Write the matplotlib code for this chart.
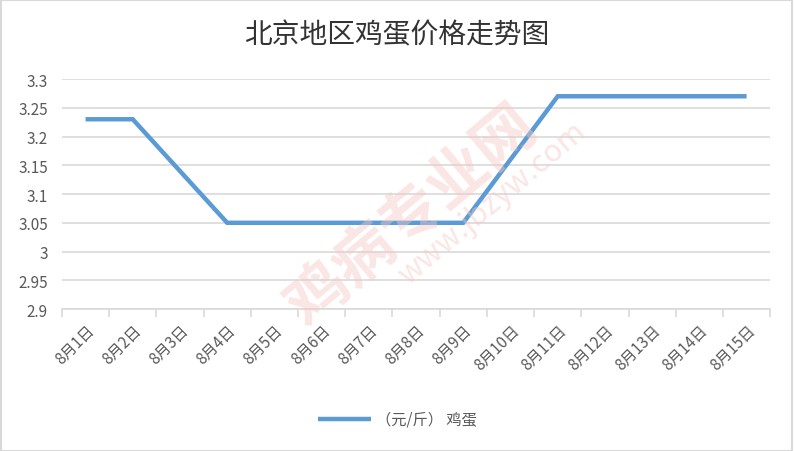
import numpy as np
from matplotlib import pyplot as plt

plt.rcParams['font.family'] = ['Noto Sans CJK SC', 'DejaVu Sans']

dates = ["8月1日", "8月2日", "8月3日", "8月4日", "8月5日", "8月6日", "8月7日", "8月8日",
         "8月9日", "8月10日", "8月11日", "8月12日", "8月13日", "8月14日", "8月15日"]
egg_price = [3.23, 3.23, 3.14, 3.05, 3.05, 3.05, 3.05, 3.05, 3.05, 3.16, 3.27, 3.27, 3.27, 3.27, 3.27]
y_ticks = [2.9, 2.95, 3.0, 3.05, 3.1, 3.15, 3.2, 3.25, 3.3]
y_tick_labels = ["2.9", "2.95", "3", "3.05", "3.1", "3.15", "3.2", "3.25", "3.3"]

fig = plt.figure(figsize=(7.94, 4.52), dpi=100)
ax = fig.add_axes([0.078, 0.314, 0.892, 0.509])

x = np.arange(len(dates))
ax.plot(x, egg_price, color='#5B9BD5', linewidth=3.2, solid_capstyle='butt',
        solid_joinstyle='miter', label='（元/斤） 鸡蛋', zorder=3)

ax.set_xlim(-0.5, len(dates) - 0.5)
ax.set_ylim(2.9, 3.3)
ax.set_yticks(y_ticks)
ax.set_yticklabels(y_tick_labels)
ax.grid(axis='y', color='#d9d9d9', linewidth=1.2)
ax.set_axisbelow(True)

# category boundaries get the tick marks, centres get the labels
ax.set_xticks(np.arange(-0.5, len(dates), 1.0))
ax.set_xticklabels([])
ax.set_xticks(x, minor=True)
ax.set_xticklabels(dates, minor=True, rotation=45, ha='right', rotation_mode='anchor')
ax.tick_params(axis='x', which='major', length=6, color='#d9d9d9', width=1.2, direction='out')
ax.tick_params(axis='x', which='minor', length=0, pad=9, labelsize=11, labelcolor='#595959')
ax.tick_params(axis='y', length=0, pad=10, labelsize=11, labelcolor='#595959')

for side in ['top', 'right', 'left']:
    ax.spines[side].set_visible(False)
ax.spines['bottom'].set_color('#d9d9d9')
ax.spines['bottom'].set_linewidth(1.2)

fig.text(0.5, 0.922, "北京地区鸡蛋价格走势图", ha='center', va='center', fontsize=20,
         fontweight='medium', color='#333333')

# faint watermark
fig.text(0.52, 0.52, "鸡病专业网", rotation=40, fontsize=44, fontweight='bold', color='#f4c7c3',
         alpha=0.45, ha='center', va='center', zorder=0)
fig.text(0.62, 0.55, "www.jbzyw.com", rotation=40, fontsize=22, color='#f4c7c3',
         alpha=0.45, ha='center', va='center', zorder=0)

leg = fig.legend(loc='center', bbox_to_anchor=(0.5, 0.07), frameon=False, fontsize=11,
                 handlelength=3.5, handletextpad=0.3)
for t in leg.get_texts():
    t.set_color('#595959')

fig.patches.append(plt.Rectangle((0.001, 0.001), 0.997, 0.997, transform=fig.transFigure,
                                 fill=False, edgecolor='#d9d9d9', linewidth=1.5))

plt.savefig("out.png", dpi=100)
